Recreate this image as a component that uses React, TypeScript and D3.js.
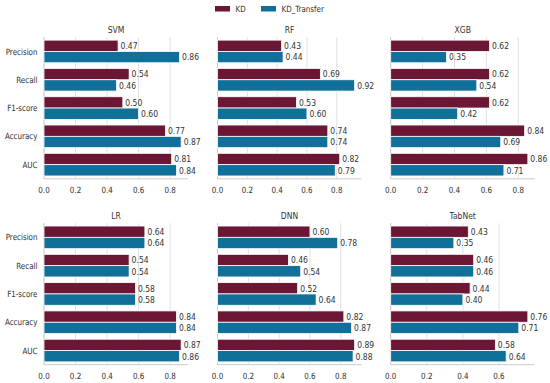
import React, { useEffect, useRef } from "react";
import * as d3 from "d3";

const metrics = ["Precision", "Recall", "F1-score", "Accuracy", "AUC"];
const models = ["SVM", "RF", "XGB", "LR", "DNN", "TabNet"];
const seriesNames = ["KD", "KD_Transfer"];

const kdValues = [
  [0.47, 0.54, 0.5, 0.77, 0.81],
  [0.43, 0.69, 0.53, 0.74, 0.82],
  [0.62, 0.62, 0.62, 0.84, 0.86],
  [0.64, 0.54, 0.58, 0.84, 0.87],
  [0.6, 0.46, 0.52, 0.82, 0.89],
  [0.43, 0.46, 0.44, 0.76, 0.58],
];
const transferValues = [
  [0.86, 0.46, 0.6, 0.87, 0.84],
  [0.44, 0.92, 0.6, 0.74, 0.79],
  [0.35, 0.54, 0.42, 0.69, 0.71],
  [0.64, 0.54, 0.58, 0.84, 0.86],
  [0.78, 0.54, 0.64, 0.87, 0.88],
  [0.35, 0.46, 0.4, 0.71, 0.64],
];

const colors = ["#6a1634", "#10709a"];

const App = () => {
  const ref = useRef<SVGSVGElement>(null);

  useEffect(() => {
    const svg = d3.select(ref.current);
    svg.selectAll("*").remove();
    const font = "DejaVu Sans, sans-serif";
    const sx = 0.83;

    // text squeezed horizontally like the reference
    const addText = (g: any, x: number, y: number, str: string, size: number, anchor = "start") =>
      g.append("text")
        .attr("transform", `translate(${x},${y}) scale(${sx},1)`)
        .attr("dy", "0.36em")
        .attr("text-anchor", anchor)
        .attr("font-family", font)
        .attr("font-size", size)
        .attr("fill", "#333333")
        .text(str);

    const colX = [44, 217.5, 390.7];
    const rowY = [37.3, 223.2];
    const w = 144;
    const h = 141.5;

    models.forEach((model, i) => {
      const x0 = colX[i % 3];
      const y0 = rowY[Math.floor(i / 3)];
      const kd = kdValues[i];
      const tr = transferValues[i];
      const maxV = d3.max([...kd, ...tr]) as number;

      const x = d3.scaleLinear().domain([0, maxV * 1.05]).range([0, w]);
      const y = d3.scaleBand().domain(metrics).range([0, h]).paddingInner(0.2).paddingOuter(0.1);
      const sub = d3.scaleBand().domain(seriesNames).range([0, y.bandwidth()]);

      const g = svg.append("g").attr("transform", `translate(${x0},${y0})`);

      const ticks = d3.range(0, maxV * 1.05, 0.2);
      g.selectAll(".grid")
        .data(ticks)
        .join("line")
        .attr("x1", (d) => x(d))
        .attr("x2", (d) => x(d))
        .attr("y1", 0)
        .attr("y2", h)
        .attr("stroke", "#e0e0e0")
        .attr("stroke-width", 1);

      // spines
      g.append("line").attr("x1", 0).attr("x2", 0).attr("y1", 0).attr("y2", h).attr("stroke", "#cccccc");
      g.append("line").attr("x1", 0).attr("x2", w).attr("y1", h).attr("y2", h).attr("stroke", "#cccccc");

      [kd, tr].forEach((vals, s) => {
        metrics.forEach((m, j) => {
          const by = (y(m) as number) + (sub(seriesNames[s]) as number);
          g.append("rect")
            .attr("x", 0)
            .attr("y", by)
            .attr("width", x(vals[j]))
            .attr("height", sub.bandwidth())
            .attr("fill", colors[s])
            .attr("stroke", "#ffffff")
            .attr("stroke-width", 0.8);
          addText(g, x(vals[j]) + 2.5, by + sub.bandwidth() / 2, vals[j].toFixed(2), 9.2);
        });
      });

      if (i % 3 === 0) {
        metrics.forEach((m) => {
          addText(g, -6.5, (y(m) as number) + y.bandwidth() / 2, m, 8.6, "end");
        });
      }

      ticks.forEach((t) => {
        addText(g, x(t), h + 11.5, t.toFixed(1), 8.6, "middle");
      });

      addText(g, w / 2, -7.5, model, 9.2, "middle");
    });

    // legend
    const legendX = [215, 261];
    seriesNames.forEach((name, s) => {
      svg.append("rect")
        .attr("x", legendX[s])
        .attr("y", 6)
        .attr("width", 15)
        .attr("height", 5.5)
        .attr("fill", colors[s]);
      addText(svg, legendX[s] + 20.5, 8.8, name, 8.6);
    });
  }, []);

  return (
    <svg
      ref={ref}
      width={550}
      height={383}
      style={{ position: "absolute", left: 0, top: 0, background: "#ffffff" }}
    />
  );
};

export default App;
